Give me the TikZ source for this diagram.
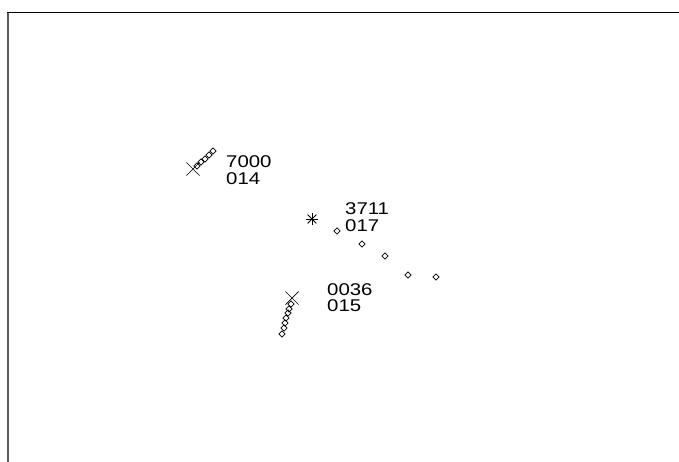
\documentclass[tikz,border=0pt]{standalone}
\usepackage{fontspec}
\setmainfont{Liberation Sans}
\newfontfamily\radarfont[FakeStretch=1.2]{Liberation Sans}
\usetikzlibrary{shapes.geometric,shapes.misc}
\begin{document}
\begin{tikzpicture}[x=1pt, y=-1pt, every node/.style={inner sep=0pt},
                    hist/.style={draw, diamond, minimum size=6.5pt, line width=0.7pt},
                    plot/.style={draw, cross out, minimum size=12.5pt, line width=0.7pt},
                    tag/.style={anchor=north west, text height=12.5pt, text depth=0pt, font=\radarfont\fontsize{17}{17}\selectfont}]
  \useasboundingbox (0,0) rectangle (679,462);
  % frame
  \draw[black!65, line width=2pt] (8,462) -- (8,13);
  \draw[line width=1pt] (7,13) -- (679,13);
  % track 7000
  \foreach \x/\y [count=\i] in {197/166, 201/162, 205/159, 209/155, 213/151}
    \node[hist] (ha\i) at (\x,\y) {};
  \node[plot] (ta) at (193,169) {};
  \node[tag] (la) at (226,155) {7000};
  \node[tag] (ma) at (226,172) {014};
  % track 3711
  \foreach \x/\y [count=\i] in {337/231, 362/244, 385/256, 408/275, 436/277}
    \node[hist] (hb\i) at (\x,\y) {};
  \node[circle, minimum size=12pt] (tb) at (312,219) {};
  \foreach \a/\b in {0/180, 45/225, 90/270, 135/315}
    \draw[line width=0.9pt] (tb.\a) -- (tb.\b);
  \node[tag] (lb) at (345,202) {3711};
  \node[tag] (mb) at (345,219) {017};
  % track 0036
  \foreach \x/\y [count=\i] in {291/304, 289/309, 288/313, 286/318, 285/323, 284/328, 282/334}
    \node[hist] (hc\i) at (\x,\y) {};
  \node[plot] (tc) at (292,298) {};
  \node[tag] (lc) at (327,283) {0036};
  \node[tag] (mc) at (327,299) {015};
\end{tikzpicture}
\end{document}
